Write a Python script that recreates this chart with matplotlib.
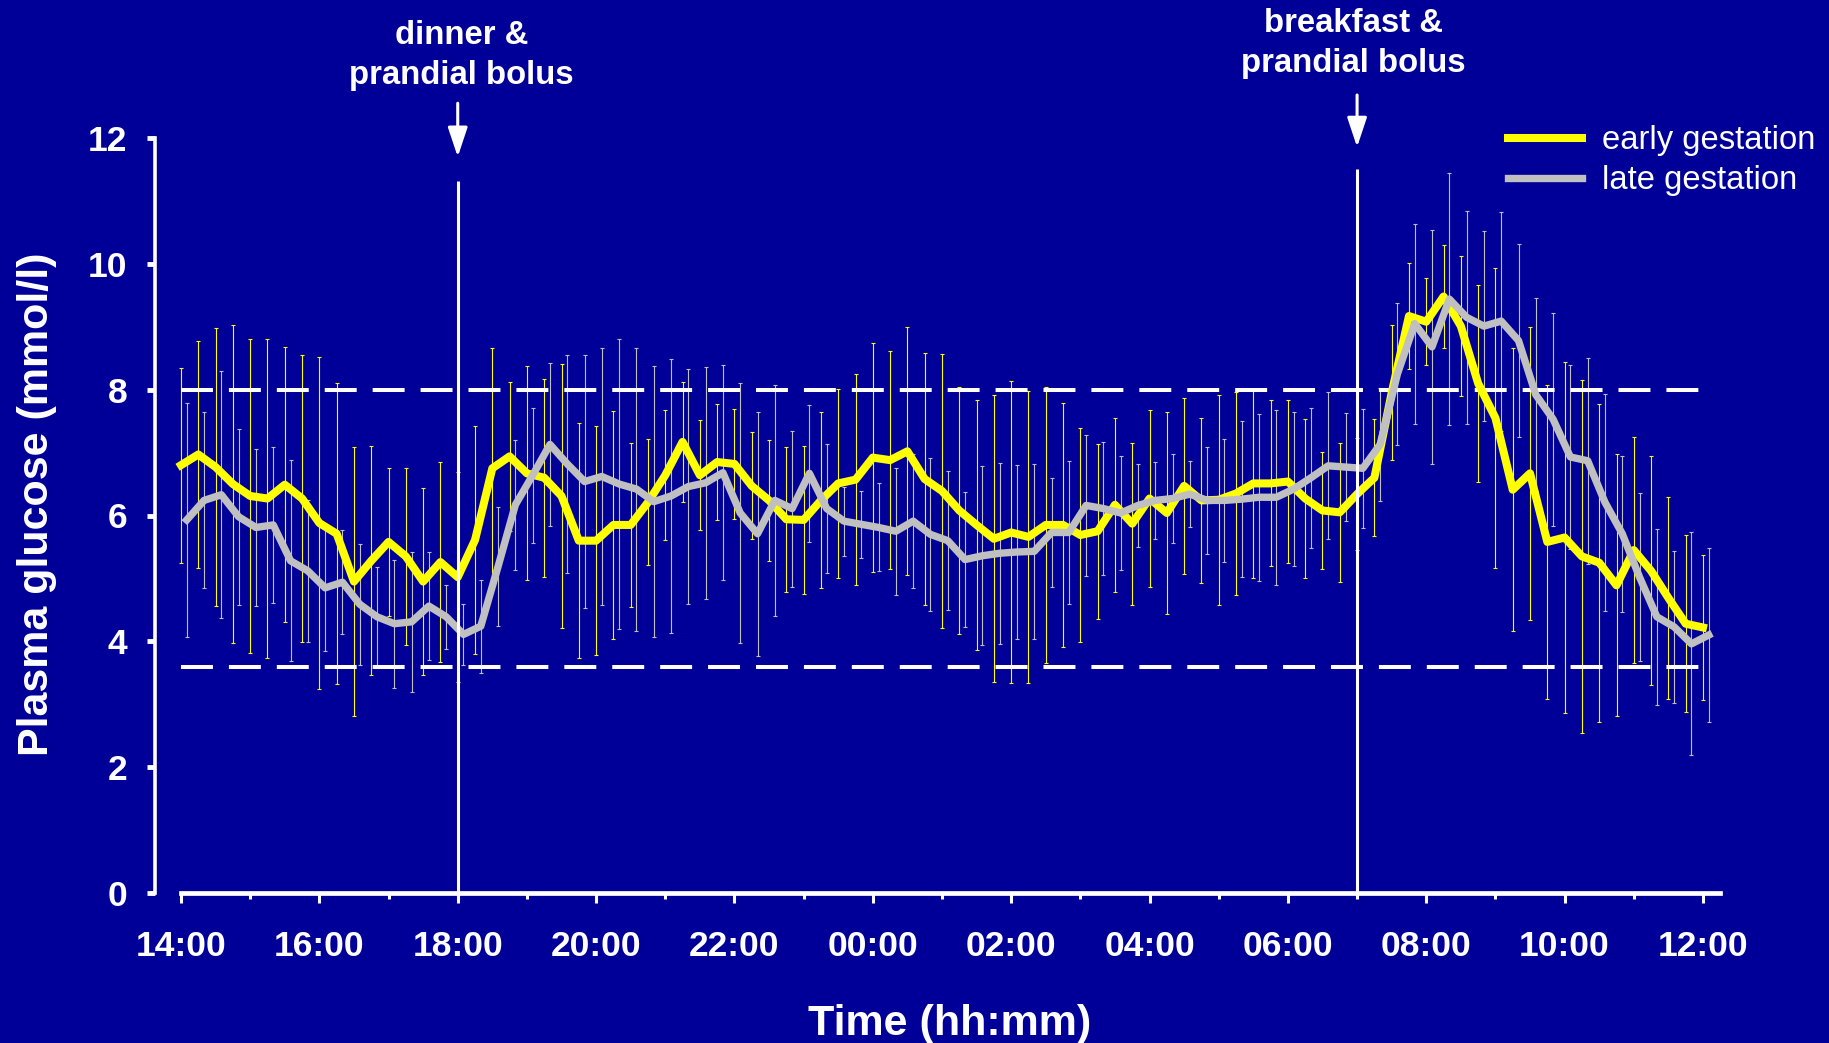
import numpy as np
import matplotlib
matplotlib.use("Agg")
import matplotlib.pyplot as plt
from matplotlib.ticker import MultipleLocator

plt.rcParams['font.family'] = ['Liberation Sans', 'DejaVu Sans']
plt.rcParams['lines.scale_dashes'] = False

#----------------------------------
# Data: mean +/- SD plasma glucose, every 15 min from 14:00
#----------------------------------

tick_labels = ["14:00", "16:00", "18:00", "20:00", "22:00", "00:00",
               "02:00", "04:00", "06:00", "08:00", "10:00", "12:00"]

early_mean = [6.80, 6.97, 6.77, 6.50, 6.31, 6.27, 6.49, 6.27, 5.88, 5.71,
              4.95, 5.28, 5.58, 5.35, 4.95, 5.26, 5.02, 5.61, 6.75, 6.94,
              6.67, 6.60, 6.31, 5.60, 5.60, 5.85, 5.85, 6.21, 6.64, 7.17,
              6.64, 6.85, 6.82, 6.47, 6.24, 5.94, 5.93, 6.24, 6.51, 6.57,
              6.92, 6.88, 7.02, 6.58, 6.39, 6.08, 5.85, 5.63, 5.73, 5.66,
              5.85, 5.85, 5.69, 5.75, 6.17, 5.87, 6.27, 6.04, 6.47, 6.24,
              6.25, 6.35, 6.51, 6.51, 6.54, 6.27, 6.08, 6.05, 6.34, 6.60,
              7.95, 9.17, 9.08, 9.48, 9.01, 8.10, 7.55, 6.41, 6.67, 5.58,
              5.65, 5.35, 5.25, 4.89, 5.45, 5.12, 4.69, 4.28, 4.22]

early_sd = [1.55, 1.80, 2.21, 2.52, 2.49, 2.54, 2.19, 2.28, 2.64, 2.39,
            2.14, 1.82, 1.17, 1.41, 1.49, 1.59, 1.67, 1.81, 1.92, 1.18,
            1.70, 1.57, 2.10, 1.87, 1.82, 1.81, 1.31, 1.00, 1.03, 0.95,
            0.87, 0.92, 0.88, 0.85, 0.96, 1.15, 1.18, 1.40, 1.50, 1.68,
            1.82, 1.73, 1.97, 2.00, 2.18, 1.97, 1.98, 2.28, 2.40, 2.32,
            2.19, 1.94, 1.70, 1.39, 1.38, 1.29, 1.40, 1.61, 1.40, 1.31,
            1.67, 1.62, 1.50, 1.32, 1.29, 1.26, 0.93, 1.11, 0.89, 0.93,
            1.07, 0.84, 0.69, 0.82, 1.11, 1.56, 2.39, 2.25, 2.33, 2.50,
            2.79, 2.81, 2.53, 2.08, 1.79, 1.82, 1.61, 1.41, 1.16]

late_mean = [5.93, 6.24, 6.33, 5.98, 5.81, 5.85, 5.28, 5.12, 4.85, 4.94,
             4.59, 4.39, 4.28, 4.31, 4.56, 4.39, 4.11, 4.24, 5.19, 6.17,
             6.64, 7.13, 6.82, 6.54, 6.62, 6.50, 6.42, 6.22, 6.31, 6.46,
             6.52, 6.68, 6.04, 5.71, 6.24, 6.11, 6.67, 6.11, 5.91, 5.86,
             5.81, 5.75, 5.91, 5.70, 5.60, 5.30, 5.36, 5.40, 5.42, 5.43,
             5.73, 5.73, 6.16, 6.11, 6.04, 6.16, 6.24, 6.27, 6.34, 6.24,
             6.24, 6.26, 6.29, 6.29, 6.42, 6.60, 6.79, 6.77, 6.75, 7.13,
             8.25, 9.05, 8.68, 9.44, 9.15, 9.01, 9.09, 8.78, 7.92, 7.53,
             6.93, 6.87, 6.21, 5.71, 5.02, 4.39, 4.23, 3.96, 4.10]

late_sd = [1.86, 1.40, 1.96, 1.40, 1.25, 1.24, 1.60, 1.13, 1.01, 0.83,
           0.96, 0.79, 1.02, 1.11, 0.86, 0.51, 0.49, 0.74, 0.95, 1.03,
           1.07, 1.30, 1.73, 2.01, 2.05, 2.31, 2.25, 2.15, 2.17, 1.87,
           1.84, 1.71, 2.07, 1.94, 1.83, 1.24, 1.09, 1.03, 0.55, 0.53,
           0.70, 1.01, 1.07, 1.21, 1.10, 1.07, 1.42, 1.44, 1.39, 1.39,
           0.87, 1.13, 1.12, 1.06, 0.90, 0.66, 0.61, 0.71, 0.52, 0.85,
           0.98, 1.24, 1.33, 1.39, 1.22, 1.11, 1.17, 0.86, 0.95, 0.90,
           1.13, 1.59, 1.86, 2.00, 1.69, 1.51, 1.74, 1.53, 1.53, 1.69,
           1.46, 1.64, 1.72, 1.24, 1.34, 1.40, 1.21, 1.77, 1.39]

# target range (mmol/l) and meal times (hours after 14:00)
target_low = 3.6
target_high = 8.0
dinner_h = 4
breakfast_h = 17

step_h = 0.25
late_shift_h = 5 / 60      # small shift so the error bars don't overlap
hours = np.arange(len(early_mean)) * step_h

#----------------------------------
# Figure
#----------------------------------

BG = '#000099'
YEL = '#ffff00'
GRY = '#c0c0c0'
W, H = 1829, 1043

fig = plt.figure(figsize=(W / 100, H / 100), dpi=100)
fig.patch.set_facecolor(BG)
ax = fig.add_axes([155 / W, 1 - 893 / H, (1720 - 155) / W, (893 - 138) / H])
ax.set_facecolor(BG)
ax.set_xlim(-0.376, 22.246)
ax.set_ylim(0, 12)

# error bars
ax.errorbar(hours, early_mean, yerr=early_sd, fmt='none', ecolor=YEL,
            elinewidth=0.8, capsize=1.2, capthick=0.8, zorder=2)
ax.errorbar(hours + late_shift_h, late_mean, yerr=late_sd, fmt='none',
            ecolor=GRY, elinewidth=0.8, capsize=1.2, capthick=0.8, zorder=2)

# mean curves
ax.plot(hours, early_mean, color=YEL, lw=5.8, zorder=4,
        label='early gestation')
ax.plot(hours + late_shift_h, late_mean, color=GRY, lw=5.3, zorder=5,
        label='late gestation')

# target range
ax.hlines([target_high, target_low], 0, 22.14, colors='white', lw=2.9,
          linestyles=[(0, (23, 11.5))], zorder=3)

# meal / bolus markers
trans = ax.get_xaxis_transform()
ax.vlines(dinner_h, 0, 11.32, colors='white', lw=2.2, zorder=6)
ax.vlines(breakfast_h, 0, 11.51, colors='white', lw=2.2, zorder=6)

arrow = dict(arrowstyle='-|>,head_length=0.75,head_width=0.25',
             color='white', lw=2.2, shrinkA=0, shrinkB=0)
ax.annotate('', xy=(dinner_h, 0.975), xycoords=trans,
            xytext=(dinner_h, 1.046), textcoords=trans,
            arrowprops=dict(arrow, mutation_scale=24), annotation_clip=False)
ax.annotate('', xy=(breakfast_h, 0.988), xycoords=trans,
            xytext=(breakfast_h, 1.057), textcoords=trans,
            arrowprops=dict(arrow, mutation_scale=24), annotation_clip=False)

ax.text(dinner_h + 0.05, 1.0715, 'dinner &\nprandial bolus', transform=trans,
        ha='center', va='baseline', multialignment='center', linespacing=1.37,
        fontsize=23.7, fontweight='bold', color='white', clip_on=False)
ax.text(breakfast_h - 0.05, 1.087, 'breakfast &\nprandial bolus',
        transform=trans, ha='center', va='baseline',
        multialignment='center', linespacing=1.37, fontsize=23.7,
        fontweight='bold', color='white', clip_on=False)

#----------------------------------
# Axes styling
#----------------------------------

for s in ['top', 'right']:
    ax.spines[s].set_visible(False)
ax.spines['left'].set_bounds(0, 12)
ax.spines['left'].set_linewidth(2.6)
ax.spines['left'].set_color('white')
ax.spines['bottom'].set_bounds(0, 22.246)
ax.spines['bottom'].set_linewidth(3.4)
ax.spines['bottom'].set_color('white')

ax.set_yticks(np.arange(0, 13, 2))
ax.set_xticks(np.arange(0, 23, 2))
ax.set_xticklabels(tick_labels)
ax.xaxis.set_minor_locator(MultipleLocator(1))

ax.tick_params(axis='y', which='major', direction='out', length=6, width=3.5,
               color='white', labelcolor='white', labelsize=25.5, pad=14)
ax.tick_params(axis='x', which='major', direction='out', length=7, width=2.2,
               color='white', labelcolor='white', labelsize=25.5, pad=20)
ax.tick_params(axis='x', which='minor', direction='out', length=4, width=2.2,
               color='white')
for lbl in ax.get_xticklabels() + ax.get_yticklabels():
    lbl.set_fontweight('bold')

fig.text(37 / W, 1 - 504 / H, 'Plasma glucose (mmol/l)', rotation=90,
         ha='center', va='center', fontsize=31, fontweight='bold',
         color='white')
fig.text(950 / W, 1 - 1035 / H, 'Time (hh:mm)', ha='center', va='baseline',
         fontsize=31, fontweight='bold', color='white')

leg = ax.legend(loc='upper left', bbox_to_anchor=(1508 / W, 1 - 125 / H),
                bbox_transform=fig.transFigure, frameon=False,
                prop={'size': 23.6}, handlelength=2.26, handletextpad=0.61,
                labelspacing=0.28, borderaxespad=0, borderpad=0)
for t in leg.get_texts():
    t.set_color('white')

fig.savefig('out.png', dpi=100, facecolor=BG)
